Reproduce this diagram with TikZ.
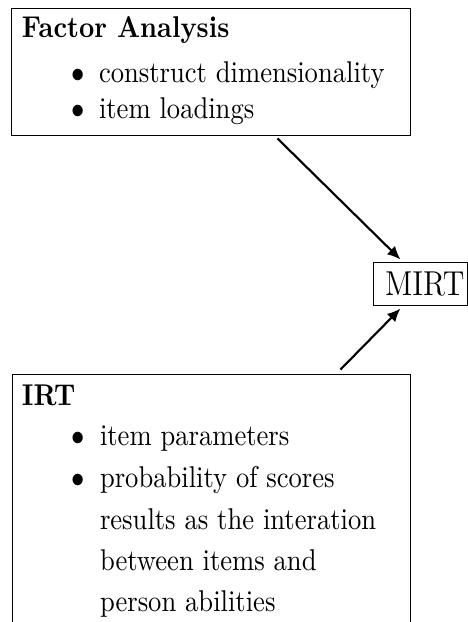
\documentclass[tikz,border=0pt]{standalone}
\usetikzlibrary{arrows.meta,fit,calc}
% text in this figure is set slightly taller than wide
\newcommand{\tallset}[1]{\scalebox{1}[1.13]{#1}}
\begin{document}
\begin{tikzpicture}[x=0.376pt, y=-0.376pt,
  panel/.style={draw, line width=0.35pt, inner sep=0pt},
  txt/.style={anchor=base west, inner sep=0pt, outer sep=0pt},
  bul/.style={anchor=base, inner sep=0pt, outer sep=0pt},
  link/.style={line width=0.8pt, -{Latex[length=5pt,width=4.4pt]}}]
\useasboundingbox (0,0) rectangle (468,622);
\clip (0,0) rectangle (468,622);

% Factor analysis panel
\node[panel, fit={(11,8) (410,135)}] (fa) {};
\node[txt, font=\bfseries] (fatitle) at (22,38) {\tallset{Factor Analysis}};
\node[bul] (fab1) at (78,83) {\tallset{$\bullet$}};
\node[txt] (fai1) at (99,83) {\tallset{construct dimensionality}};
\node[bul] (fab2) at (78,119) {\tallset{$\bullet$}};
\node[txt] (fai2) at (99,119) {\tallset{item loadings}};

% MIRT box
\node[panel, fit={(373,262) (467,305)}] (mirt) {};
\node[txt, font=\fontsize{11.5}{14}\selectfont] (mirtlbl) at (385,296) {\tallset{MIRT}};

% IRT panel (runs past the lower edge)
\node[panel, fit={(12,374) (410,660)}] (irt) {};
\node[txt, font=\bfseries] (irttitle) at (22,405) {\tallset{IRT}};
\node[bul] (irtb1) at (78,445) {\tallset{$\bullet$}};
\node[txt] (irti1) at (100,445) {\tallset{item parameters}};
\node[bul] (irtb2) at (78,487) {\tallset{$\bullet$}};
\node[txt] (irti2) at (100,487) {\tallset{probability of scores}};
\node[txt] (irti3) at (100,529) {\tallset{results as the interation}};
\node[txt] (irti4) at (100,570) {\tallset{between items and}};
\node[txt] (irti5) at (100,611) {\tallset{person abilities}};

% connectors
\draw[link] ($(fa.south east)+(-133,3)$) -- ($(mirt.north)+(-19.5,-2)$);
\draw[link] ($(irt.north east)+(-70,-4)$) -- ($(mirt.south)+(-19.5,3)$);
\end{tikzpicture}
\end{document}
